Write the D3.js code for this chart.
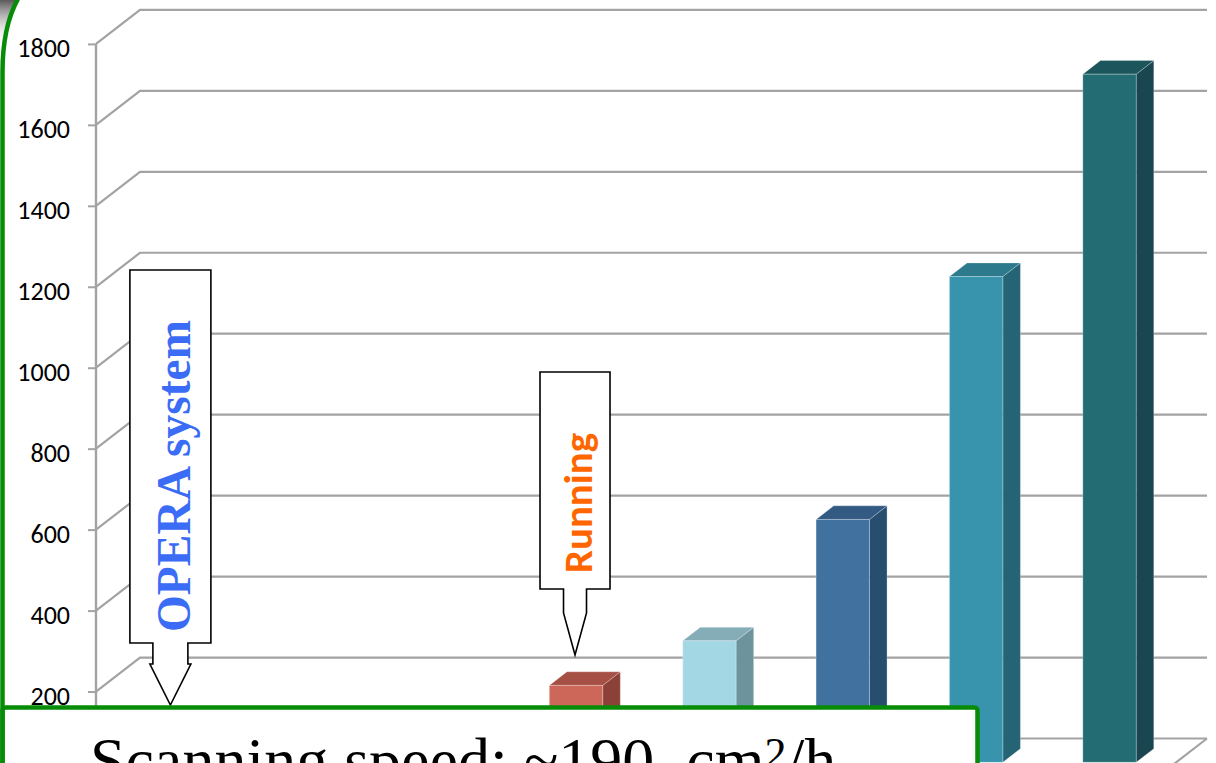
<!DOCTYPE html>
<html>
<head>
<meta charset="utf-8">
<script src="https://cdn.jsdelivr.net/npm/d3@7"></script>
<style>
  html, body { margin: 0; padding: 0; background: #ffffff; overflow: hidden; }
  svg { display: block; }
</style>
</head>
<body>
<svg id="chart" width="1216" height="763"></svg>
<script>
// ---- data ----
const systems = ["S1", "S2", "S3", "S4", "S5", "S6", "S7", "S8"];
const speeds = [20, 40, 72, 190, 300, 600, 1200, 1700];
const frontColors = ["#4f81bd", "#c0504d", "#9bbb59", "#cc6759", "#a4d7e4", "#41729f", "#3794ac", "#246c74"];
const topColors   = ["#3d6a9e", "#9e403d", "#7f9a48", "#a64f45", "#85adb7", "#335a83", "#2c7a8c", "#1c555c"];
const sideColors  = ["#355d8a", "#883634", "#6c833c", "#8b4138", "#6d949d", "#274e6e", "#256474", "#1a4651"];
const gridValues = [0, 200, 400, 600, 800, 1000, 1200, 1400, 1600, 1800];
const tickLabels = [200, 400, 600, 800, 1000, 1200, 1400, 1600, 1800];

// ---- layout ----
const svg = d3.select("#chart");
const X0 = 96, X1 = 1163;          // front plane of the category axis
const DX = 44, DY = 34;            // oblique depth offset of the back wall
const BAR_D0 = 0.3, BAR_D1 = 0.7;  // bar depth slice

const x = d3.scaleBand().domain(systems).range([X0, X1]).paddingInner(0).paddingOuter(0);
const y = d3.scaleLinear().domain([0, 1800]).range([772.5, 43.9]);
const bw = x.bandwidth();

// project a point (px, py on front plane) to depth d
const P = (px, py, d) => [px + d * DX, py - d * DY];

// ---- back wall gridlines ----
const grid = svg.append("g");
grid.selectAll("polyline")
  .data(gridValues)
  .join("polyline")
  .attr("points", v => {
    const yy = y(v);
    return [[X0, yy], P(X0, yy, 1), P(X1, yy, 1)].map(p => p.join(",")).join(" ");
  })
  .attr("fill", "none")
  .attr("stroke", "#a3a3a3")
  .attr("stroke-width", 2.2);

// floor right edge
grid.append("line")
  .attr("x1", P(X1, y(0), 1)[0]).attr("y1", P(X1, y(0), 1)[1])
  .attr("x2", X1).attr("y2", y(0))
  .attr("stroke", "#a3a3a3").attr("stroke-width", 2.2);

// ---- value axis ----
const axis = d3.axisLeft(y).tickValues(tickLabels).tickFormat(d3.format("d"))
  .tickSize(8).tickPadding(18);
const ag = svg.append("g").attr("transform", `translate(${X0},0)`).call(axis);
ag.attr("font-size", null).attr("font-family", null);
ag.select(".domain").remove();
ag.selectAll(".tick line").attr("stroke", "#a3a3a3").attr("stroke-width", 2);
ag.selectAll(".tick text")
  .attr("fill", "#000")
  .attr("dy", 12.5)
  .style("font-family", "Carlito, Lato, 'Open Sans', sans-serif")
  .style("font-size", "26px");
svg.append("line")
  .attr("x1", X0).attr("x2", X0)
  .attr("y1", y(1800)).attr("y2", y(0))
  .attr("stroke", "#a3a3a3").attr("stroke-width", 2.4);

// ---- 3D bars ----
const bars = svg.append("g");
systems.forEach((s, i) => {
  const v = speeds[i];
  const left = x(s) + bw * 0.3;
  const right = left + bw * 0.4;
  const fTL = P(left, y(v), BAR_D0), fTR = P(right, y(v), BAR_D0);
  const fBR = P(right, y(0), BAR_D0), fBL = P(left, y(0), BAR_D0);
  const bTL = P(left, y(v), BAR_D1), bTR = P(right, y(v), BAR_D1);
  const bBR = P(right, y(0), BAR_D1);
  const g = bars.append("g");
  g.append("polygon")
    .attr("points", [fTR, bTR, bBR, fBR].map(p => p.join(",")).join(" "))
    .attr("fill", sideColors[i]);
  g.append("polygon")
    .attr("points", [fTL, fTR, bTR, bTL].map(p => p.join(",")).join(" "))
    .attr("fill", topColors[i]);
  g.append("polygon")
    .attr("points", [fTL, fTR, fBR, fBL].map(p => p.join(",")).join(" "))
    .attr("fill", frontColors[i]);
  g.selectAll("polygon")
    .attr("stroke", "rgba(255,255,255,0.28)")
    .attr("stroke-width", 0.9)
    .attr("stroke-linejoin", "round");
});

// ---- callout arrows ----
function bandCenter(s) { return x(s) + bw / 2 + BAR_D0 * DX; }

// "OPERA system" callout on the first system
{
  const cx = bandCenter(systems[0]) - 5.5;
  const path = `M${cx - 40.5},270 H${cx + 40.5} V643 H${cx + 17.5} V664 H${cx + 20.5}
                L${cx},705 L${cx - 20.5},664 H${cx - 17.5} V643 H${cx - 40.5} Z`;
  svg.append("path").attr("d", path)
    .attr("fill", "#fff").attr("stroke", "#000").attr("stroke-width", 1.6)
    .attr("stroke-linejoin", "miter");
  svg.append("text")
    .attr("transform", `translate(${cx + 19.5},632) rotate(-90)`)
    .attr("textLength", 312)
    .attr("lengthAdjust", "spacingAndGlyphs")
    .style("font-family", "'Liberation Serif', 'Times New Roman', serif")
    .style("font-weight", "bold")
    .style("font-size", "48px")
    .attr("fill", "#3b6cf5")
    .text("OPERA system");
}

// "Running" callout on the fourth system
{
  const cx = bandCenter(systems[3]) - 1;
  const path = `M${cx - 35},372 H${cx + 35} V589 H${cx + 11.5} V613
                L${cx},655 L${cx - 11.5},613 V589 H${cx - 35} Z`;
  svg.append("path").attr("d", path)
    .attr("fill", "#fff").attr("stroke", "#000").attr("stroke-width", 1.6);
  svg.append("text")
    .attr("transform", `translate(${cx + 17},573) rotate(-90)`)
    .attr("textLength", 140)
    .attr("lengthAdjust", "spacingAndGlyphs")
    .style("font-family", "Carlito, Lato, 'Open Sans', sans-serif")
    .style("font-weight", "bold")
    .style("font-size", "40px")
    .attr("fill", "#ff6600")
    .text("Running");
}

// ---- caption box ----
svg.append("rect")
  .attr("x", 2.5).attr("y", 707.5)
  .attr("width", 975).attr("height", 120)
  .attr("rx", 3)
  .attr("fill", "#fff")
  .attr("stroke", "#078c07").attr("stroke-width", 4.5);

const cap = svg.append("text")
  .attr("x", 90).attr("y", 782)
  .style("font-family", "'Liberation Serif', 'Times New Roman', serif")
  .style("font-size", "64px")
  .style("white-space", "pre")
  .attr("fill", "#000");
cap.append("tspan").text("Scanning speed: ~190  cm");
cap.append("tspan").attr("dy", -14).style("font-size", "44px").text("2");
cap.append("tspan").attr("dy", 14).text("/h");

// ---- outer frame corner ----
const defs = svg.append("defs");
const sh = defs.append("linearGradient").attr("id", "cornerShade")
  .attr("x1", 0).attr("y1", 0).attr("x2", 0).attr("y2", 1);
sh.append("stop").attr("offset", "0%").attr("stop-color", "#5a5a5a");
sh.append("stop").attr("offset", "100%").attr("stop-color", "#ffffff").attr("stop-opacity", 0);
svg.append("path")
  .attr("d", "M0,0 L18,0 C9,14 4,30 3,48 L0,48 Z")
  .attr("fill", "url(#cornerShade)");
svg.append("path")
  .attr("d", "M2.5,763 L2.5,72 C2.5,40 8,16 19,-3")
  .attr("fill", "none")
  .attr("stroke", "#078c07").attr("stroke-width", 4.5);
</script>
</body>
</html>
